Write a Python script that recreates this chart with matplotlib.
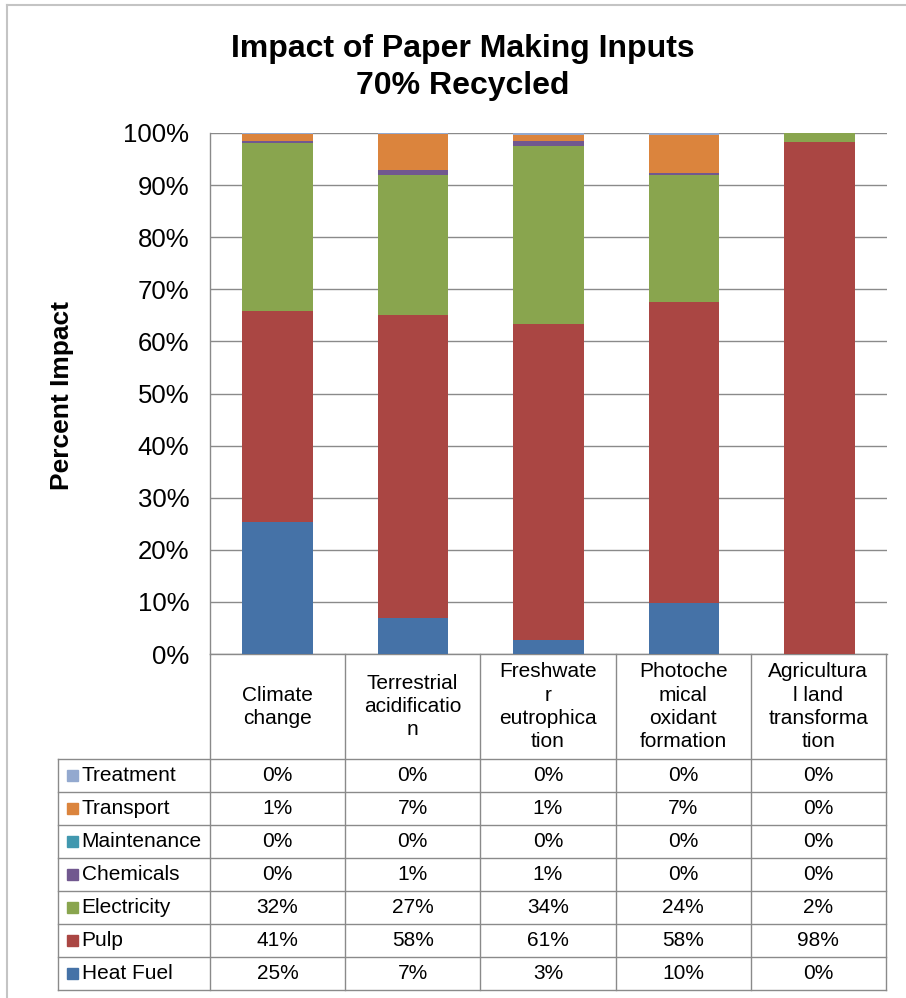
import matplotlib.pyplot as plt
from matplotlib.lines import Line2D
from matplotlib.patches import Rectangle

plt.rcParams['font.family'] = ['Liberation Sans', 'DejaVu Sans']

# impact categories (wrapped the way the table header shows them)
categories = ['Climate\nchange', 'Terrestrial\nacidificatio\nn', 'Freshwate\nr\neutrophica\ntion',
              'Photoche\nmical\noxidant\nformation', 'Agricultura\nl land\ntransforma\ntion']

# share of impact per input, percent
heat_fuel = [25.3, 7.0, 2.7, 9.7, 0.0]
pulp = [40.6, 58.0, 60.6, 57.9, 98.3]
electricity = [32.2, 27.0, 34.2, 24.3, 1.7]
chemicals = [0.4, 0.9, 0.9, 0.4, 0.0]
maintenance = [0.0, 0.0, 0.0, 0.0, 0.0]
transport = [1.4, 7.0, 1.2, 7.3, 0.0]
treatment = [0.1, 0.1, 0.4, 0.4, 0.0]

series_names = ['Heat Fuel', 'Pulp', 'Electricity', 'Chemicals', 'Maintenance', 'Transport', 'Treatment']
series_values = [heat_fuel, pulp, electricity, chemicals, maintenance, transport, treatment]
series_colors = ['#4572A7', '#AA4643', '#89A54E', '#71588F', '#4198AF', '#DB843D', '#93A9CF']

W, H = 906, 998
fig = plt.figure(figsize=(W / 100, H / 100), dpi=100)

grid_col = '#8a8a8a'

# chart area outline
fig.add_artist(Line2D([7 / W, 7 / W], [0, 1 - 5 / H], transform=fig.transFigure, color='#c4c4c4', lw=1.5))
fig.add_artist(Line2D([7 / W, 1], [1 - 5 / H, 1 - 5 / H], transform=fig.transFigure, color='#c4c4c4', lw=1.5))

# title
fig.text(463 / W, 1 - 57 / H, 'Impact of Paper Making Inputs', ha='center', va='baseline',
         fontsize=23, fontweight='bold')
fig.text(463 / W, 1 - 94 / H, '70% Recycled', ha='center', va='baseline',
         fontsize=23, fontweight='bold')

# stacked bars
ax_left, ax_right = 210 / W, 887 / W
ax_bot, ax_top = 1 - 654 / H, 1 - 133 / H
ax = fig.add_axes([ax_left, ax_bot, ax_right - ax_left, ax_top - ax_bot])

x = list(range(len(categories)))
bottom = [0.0] * len(categories)
for name, vals, col in zip(series_names, series_values, series_colors):
    ax.bar(x, vals, width=0.52, bottom=bottom, color=col, edgecolor='none', zorder=3)
    bottom = [b + v for b, v in zip(bottom, vals)]

ax.set_xlim(-0.5, len(categories) - 0.5)
ax.set_ylim(0, 100)
ax.set_yticks(range(0, 101, 10))
ax.set_yticklabels([f'{t}%' for t in range(0, 101, 10)], fontsize=18.5)
ax.set_xticks([])
ax.tick_params(axis='y', length=0, pad=15)
ax.yaxis.grid(True, color=grid_col, lw=1.0, zorder=0)
ax.set_axisbelow(True)
for s in ['top', 'right']:
    ax.spines[s].set_visible(False)
for s in ['left', 'bottom']:
    ax.spines[s].set_color(grid_col)
    ax.spines[s].set_linewidth(1.0)

fig.text(62 / W, 1 - 395 / H, 'Percent Impact', rotation=90, ha='center', va='center',
         fontsize=19, fontweight='bold')

# data table below the plot
tb_left, tb_right = 58 / W, 886 / W
tb_bot, tb_top = 1 - 990 / H, 1 - 654 / H
tab = fig.add_axes([tb_left, tb_bot, tb_right - tb_left, tb_top - tb_bot])
tab.axis('off')
unit = (887 - 210) / len(categories)
x0 = -0.5 - (210 - 58) / unit
x1 = len(categories) - 0.5
header_h = 3.2
n_rows = len(series_names)
tab.set_xlim(x0, x1)
tab.set_ylim(header_h + n_rows, 0)

line_kw = dict(color=grid_col, lw=1.0, clip_on=False)
# vertical rules
for xv in [i - 0.5 for i in range(len(categories) + 1)]:
    tab.plot([xv, xv], [0, header_h + n_rows], **line_kw)
tab.plot([x0, x0], [header_h, header_h + n_rows], **line_kw)
# horizontal rules
for r in range(n_rows + 1):
    tab.plot([x0, x1], [header_h + r, header_h + r], **line_kw)

for i, cat in enumerate(categories):
    tab.text(i, header_h / 2, cat, ha='center', va='center', fontsize=15, linespacing=1.28)

# rows listed top to bottom in reverse stacking order
for r, idx in enumerate(reversed(range(n_rows))):
    yc = header_h + r + 0.5
    tab.add_patch(Rectangle((x0 + 0.07, yc - 0.17), 0.075, 0.34,
                            color=series_colors[idx], clip_on=False))
    tab.text(x0 + 0.175, yc, series_names[idx], ha='left', va='center', fontsize=15)
    for i, v in enumerate(series_values[idx]):
        tab.text(i, yc, f'{v:.0f}%', ha='center', va='center', fontsize=15)

fig.savefig('out.png', dpi=100)
